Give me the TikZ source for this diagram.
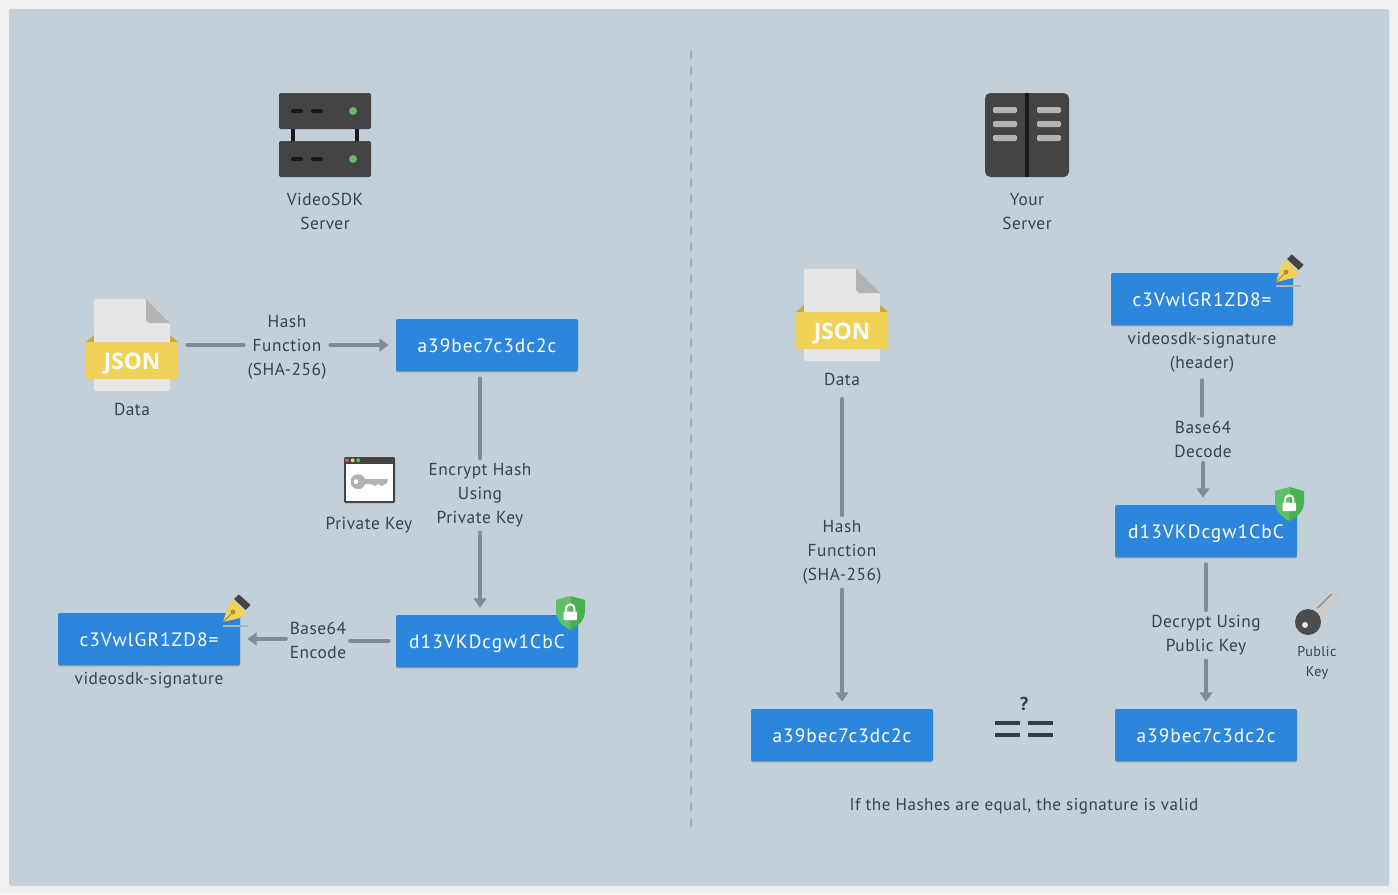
\documentclass[tikz,border=0pt]{standalone}
\usepackage{fontspec}
\usepackage{tikz}
\usetikzlibrary{arrows.meta,shadows}
\setmainfont[LetterSpace=3]{PT Sans}
\newfontfamily\boxfont[LetterSpace=5.5]{PT Sans}
\newfontfamily\jsonfont{Open Sans}
\definecolor{sdkpanel}{HTML}{C3D0DA}
\definecolor{sdkpage}{HTML}{EEF0F2}
\definecolor{sdkblue}{HTML}{2C87DC}
\definecolor{sdklink}{HTML}{7E8C9A}
\definecolor{sdkrule}{HTML}{9FAEBB}
\definecolor{sdktext}{HTML}{36424E}
\definecolor{sdkdark}{HTML}{444444}
\definecolor{sdkblack}{HTML}{1A1A1A}
\definecolor{sdkgrey}{HTML}{B3B3B3}
\definecolor{sdkshaft}{HTML}{CCCBCA}
\definecolor{sdkpaper}{HTML}{E6E6E6}
\definecolor{sdkyellow}{HTML}{F0D256}
\definecolor{sdkochre}{HTML}{C9A83A}
\definecolor{sdkgreen}{HTML}{66BB6A}
\definecolor{sdkred}{HTML}{E05A4E}
\definecolor{sdkshield}{HTML}{47B04F}
\definecolor{sdkshieldlt}{HTML}{5FC068}
\definecolor{sdkequal}{HTML}{2C3E50}

\begin{document}
\begin{tikzpicture}[
  x=0.75pt,y=-0.75pt,
  hashbox/.style={fill=sdkblue,text=white,rounded corners=1.5pt,minimum width=136.5pt,minimum height=39pt,
    inner sep=0pt,outer sep=5.5pt,text height=10.5pt,text depth=0pt,font=\boxfont\fontsize{14.5}{18}\selectfont,
    drop shadow={shadow xshift=0pt,shadow yshift=-1pt,opacity=.25,fill=black}},
  caption/.style={inner sep=0pt,outer sep=4pt,yshift=-1pt,align=center,text=sdktext,font=\fontsize{13}{18}\selectfont},
  linktext/.style={caption,outer xsep=3pt,outer ysep=4pt},
  smallcap/.style={caption,font=\fontsize{10.6}{15}\selectfont},
  iconspot/.style={inner sep=0pt,outer sep=0pt,minimum width=69pt,minimum height=27pt},
  link/.style={draw=sdklink,line width=3pt,line cap=round},
  linkto/.style={link,-{Triangle[width=9.5pt,length=7pt]}},
  pics/jsonfile/.style={code={
    \fill[sdkochre] (-46,-3) -- (-38,-10) -- (38,-10) -- (46,-3) -- cycle;
    \fill[sdkpaper,rounded corners=1.5pt] (-38,-46) -- (14,-46) -- (38,-22) -- (38,46) -- (-38,46) -- cycle;
    \fill[sdkgrey] (14,-46) -- (38,-22) -- (17,-22) -- (14,-25) -- cycle;
    \fill[sdkyellow,rounded corners=1.5pt] (-46,-3) -- (46,-3) -- (46,34) -- (-46,34) -- cycle;
    \node[text=white,inner sep=0pt,font=\jsonfont\bfseries\fontsize{17}{20}\selectfont] (-word) at (0,18.5) {JSON};
  }},
  pics/shield/.style={code={
    \fill[sdkshieldlt] (0,0) -- (-14.5,4) -- (-14.5,15) .. controls (-14.5,25) and (-6,31) .. (0,34) -- cycle;
    \fill[sdkshield] (0,0) -- (14.5,4) -- (14.5,15) .. controls (14.5,25) and (6,31) .. (0,34) -- cycle;
    \fill[white,rounded corners=.5pt] (-7,15.5) rectangle (6.5,24);
    \draw[white,line width=1.5pt] (-4.5,15.5) -- (-4.5,12.5) arc[start angle=180,end angle=360,radius=4.2] -- (3.9,15.5);
  }},
  pics/nibpen/.style={code={
    \draw[sdkgrey,line width=1.5pt] (0,4) -- (25,4);
    \fill[sdkyellow] (0,0) -- (5,-16) -- (10,-22) -- (22.7,-10) -- (17,-4) -- cycle;
    \fill[sdkdark] (11,-23) -- (15.7,-27.7) -- (27.7,-17) -- (22.7,-12) -- cycle;
    \draw[sdkochre!85!black,line width=.8pt] (0,0) -- (10,-10);
    \fill[sdkochre!85!black] (10,-10) circle[radius=2.5];
  }}
]
  \useasboundingbox (0,0) rectangle (1398,894);
  \fill[sdkpage] (0,0) rectangle (1398,894);
  \fill[sdkpanel,rounded corners=1.5pt,drop shadow={shadow xshift=0pt,shadow yshift=-.8pt,opacity=.12,fill=black}] (9,9) rectangle (1389,885);
  \draw[sdkrule,line width=1.5pt,dash pattern=on 6pt off 6pt] (691,51) -- (691,827);

  % videosdk server
  \foreach \ypos in {93,141}{
    \fill[sdkdark,rounded corners=1.5pt] (279,\ypos) rectangle (371,\ypos+36);
    \fill[sdkblack,rounded corners=1pt] (291,\ypos+16) rectangle (303,\ypos+20);
    \fill[sdkblack,rounded corners=1pt] (311,\ypos+16) rectangle (323,\ypos+20);
    \fill[sdkgreen] (353,\ypos+18) circle[radius=4];
  }
  \fill[sdkblack] (291,129) rectangle (295,141);
  \fill[sdkblack] (355,129) rectangle (359,141);
  \node[caption] (sdkname) at (325,210) {VideoSDK\\ Server};

  % left column
  \pic (jsonl) at (132,345) {jsonfile};
  \node[iconspot] (filel) at (132,345) {};
  \node[caption] (datal) at (132,408) {Data};
  \node[hashbox] (hashl) at (487,345) {a39bec7c3dc2c};
  \node[hashbox] (encl) at (487,641) {d13VKDcgw1CbC};
  \node[hashbox] (sigl) at (149,639) {c3VwlGR1ZD8=};
  \node[caption] (signame) at (149,679) {videosdk-signature};
  \node[linktext] (hashtextl) at (287,346) {Hash\\ Function\\ (SHA-256)};
  \node[linktext] (enctext) at (480,494) {Encrypt Hash\\ Using\\ Private Key};
  \node[linktext] (b64enc) at (318,639) {Base64\\ Encode};
  \draw[link] ([xshift=7pt]filel.east) -- (filel.east -| hashtextl.west);
  \draw[linkto] (hashl.west -| hashtextl.east) -- (hashl.west);
  \draw[link] (enctext |- hashl.south) -- (enctext.north);
  \draw[linkto] (enctext.south) -- (enctext |- encl.north);
  \draw[link] (encl.west) -- (encl.west -| b64enc.east);
  \draw[linkto] (sigl.east -| b64enc.west) -- (sigl.east);
  \pic at (570.5,596) {shield};
  \pic at (223,622) {nibpen};

  % private key window
  \fill[sdkdark,rounded corners=1pt] (344,457) rectangle (395,503);
  \fill[white] (346,464) rectangle (393,501);
  \fill[sdkred] (346.8,460.3) circle[radius=2];
  \fill[sdkyellow] (352.7,460.3) circle[radius=2];
  \fill[sdkgreen] (358.3,460.3) circle[radius=2];
  \fill[sdkgrey] (362,479) -- (388,479) -- (387,483) -- (382,486) -- (378,484) -- (375,486) -- (371,484) -- (362,484) -- cycle;
  \fill[sdkgrey,even odd rule] (358,481.7) circle[radius=7.5] (356,481.7) circle[radius=2.5];
  \node[caption] (privname) at (369,524) {Private Key};

  % your server
  \fill[sdkdark,rounded corners=4pt] (985,93) rectangle (1069,177);
  \fill[sdkblack] (1025,93) rectangle (1029,177);
  \foreach \ypos in {107,121,135}{
    \fill[sdkgrey,rounded corners=1pt] (993,\ypos) rectangle (1017,\ypos+6);
    \fill[sdkgrey,rounded corners=1pt] (1037,\ypos) rectangle (1061,\ypos+6);
  }
  \node[caption] (yourname) at (1027,210) {Your\\ Server};

  % right column
  \pic (jsonr) at (842,315) {jsonfile};
  \node[caption,outer ysep=10pt] (datar) at (842,378) {Data};
  \node[hashbox] (hashr) at (842,735) {a39bec7c3dc2c};
  \node[hashbox] (sigr) at (1202,299) {c3VwlGR1ZD8=};
  \node[caption,outer ysep=6pt] (headname) at (1202,351) {videosdk-signature\\ (header)};
  \node[hashbox] (encr) at (1206,531) {d13VKDcgw1CbC};
  \node[hashbox] (decr) at (1206,735) {a39bec7c3dc2c};
  \node[linktext] (hashtextr) at (842,551) {Hash\\ Function\\ (SHA-256)};
  \node[linktext] (b64dec) at (1203,438) {Base64\\ Decode};
  \node[linktext] (dectext) at (1206,634) {Decrypt Using\\ Public Key};
  \draw[link] (datar.south) -- (hashtextr.north);
  \draw[linkto] (hashtextr.south) -- (hashr.north);
  \draw[link] (headname.south) -- (headname.south |- b64dec.north);
  \draw[linkto] (b64dec.south) -- (b64dec |- encr.north);
  \draw[link] (encr.south) -- (dectext.north);
  \draw[linkto] (dectext.south) -- (decr.north);
  \pic at (1289.5,487) {shield};
  \pic at (1276,282) {nibpen};

  % public key
  \fill[sdkshaft] (1313.3,608.3) -- (1330,593.3) -- (1339,591.7) -- (1339,600) -- (1335,600.7) -- (1333,606) -- (1328,607) -- (1326.7,610.7) -- (1320,617) -- cycle;
  \draw[sdkgrey!75!black,line width=.8pt] (1317.3,608.3) -- (1331.7,594);
  \fill[sdkdark!95!white] (1308,622) circle[radius=13];
  \fill[sdkpaper] (1305,625) circle[radius=3];
  \node[smallcap] (pubname) at (1317,662) {Public\\ Key};

  % equality sign
  \node[text=sdkequal,inner sep=0pt,font=\bfseries\fontsize{14}{16}\selectfont] (askmark) at (1024,704) {?};
  \foreach \xpos in {995,1028}{
    \fill[sdkequal] (\xpos,721) rectangle (\xpos+25,725);
    \fill[sdkequal] (\xpos,733) rectangle (\xpos+25,737);
  }
  \node[caption,font=\fontsize{12.8}{18}\selectfont] (verdict) at (1024,805) {If the Hashes are equal, the signature is valid};
\end{tikzpicture}
\end{document}
